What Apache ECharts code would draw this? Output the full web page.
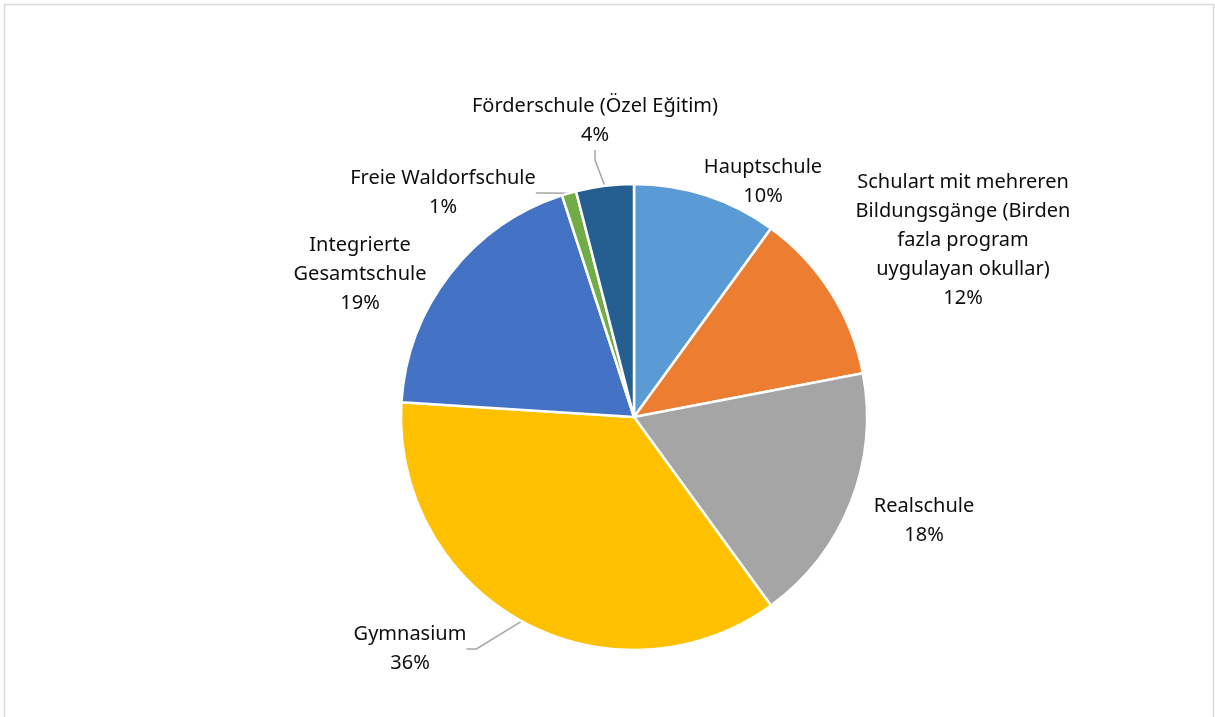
<!DOCTYPE html>
<html>
<head>
<meta charset="utf-8">
<script src="https://cdn.jsdelivr.net/npm/echarts@6/dist/echarts.min.js"></script>
<style>
  html, body { margin: 0; padding: 0; background: #fff; }
  #schoolpie { width: 1215px; height: 717px; }
</style>
</head>
<body>
<div id="schoolpie"></div>
<script>
// slices, clockwise from 12 o'clock
var categories = [
  'Hauptschule',
  'Schulart mit mehreren\nBildungsgänge (Birden\nfazla program\nuygulayan okullar)',
  'Realschule',
  'Gymnasium',
  'Integrierte\nGesamtschule',
  'Freie Waldorfschule',
  'Förderschule (Özel Eğitim)'
];
var values = [10, 12, 18, 36, 19, 1, 4];
var colors = ['#5B9BD5', '#ED7D31', '#A5A5A5', '#FFC000', '#4472C4', '#70AD47', '#255E91'];
var withLine = [false, false, false, true, false, true, true];

// where excel put the labels (block centre)
var labelPos = [
  [763, 182], [963, 240], [924, 521], [410, 649], [360, 274], [443, 193], [595, 121]
];

var myChart = echarts.init(document.getElementById('schoolpie'));

var pieData = [];
for (var i = 0; i < categories.length; i++) {
  pieData.push({
    name: categories[i],
    value: values[i],
    itemStyle: { color: colors[i] },
    labelLine: { show: withLine[i] }
  });
}

var option = {
  backgroundColor: '#fff',
  animation: false,
  graphic: [{
    type: 'rect',
    shape: { x: 4.5, y: 4.5, width: 1209, height: 730 },
    style: { fill: 'none', stroke: '#d9d9d9', lineWidth: 1.5 },
    silent: true
  }],
  series: [{
    type: 'pie',
    center: [634, 417],
    radius: 233,
    startAngle: 90,
    clockwise: true,
    percentPrecision: 0,
    data: pieData,
    itemStyle: {
      borderColor: '#fff',
      borderWidth: 2.5
    },
    label: {
      show: true,
      position: 'outside',
      formatter: '{b}\n{d}%',
      fontFamily: 'Noto Sans',
      fontSize: 20,
      lineHeight: 29,
      color: '#0d0d0d',
      align: 'center'
    },
    labelLine: {
      length: 10,
      length2: 10,
      lineStyle: { color: '#a6a6a6', width: 1.5 }
    },
    labelLayout: function (params) {
      var p = labelPos[params.dataIndex];
      return {
        x: p[0],
        y: p[1],
        align: 'center',
        verticalAlign: 'middle'
      };
    }
  }]
};
myChart.setOption(option);
window.onresize = myChart.resize;
</script>
</body>
</html>
